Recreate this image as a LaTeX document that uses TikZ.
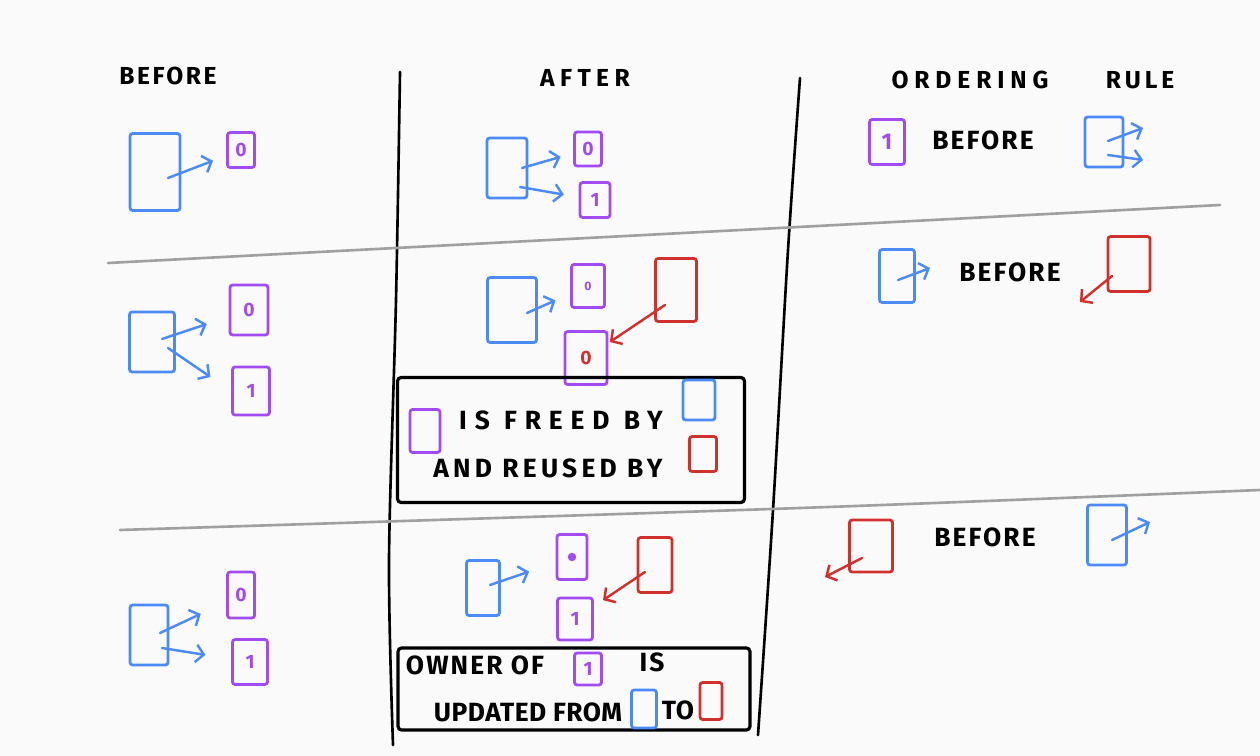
\documentclass[tikz,border=0pt]{standalone}
\usepackage{fontspec}
\usepackage{tikz}
\usetikzlibrary{arrows.meta, positioning, calc}
\setmainfont{Fira Sans}
\newfontfamily\sketchfont{Fira Sans}
\definecolor{paper}{HTML}{FAFAFA}
\definecolor{ownerblue}{HTML}{4C8BF5}
\definecolor{pagepurple}{HTML}{A24BF0}
\definecolor{reuserred}{HTML}{D0312D}
\definecolor{rulegray}{HTML}{A0A0A0}

\tikzset{
  obj/.style={draw, line width=1.6pt, rounded corners=1.5pt, inner sep=0pt},
  ownerbox/.style={obj, draw=ownerblue},
  pagebox/.style={obj, draw=pagepurple, text=pagepurple, font=\sketchfont\bfseries\fontsize{11}{11}\selectfont},
  reuserbox/.style={obj, draw=reuserred},
  ptr/.style={line width=1.4pt, line cap=round, -{Straight Barb[length=4.5pt,width=10pt]}},
  divider/.style={black, line width=1.5pt, line cap=round},
  band/.style={rulegray, line width=1.5pt, line cap=round},
  hand/.style 2 args={font=\sketchfont\bfseries\fontsize{#1}{#1}\selectfont\addfontfeature{LetterSpace=#2}},
  notebox/.style={draw, line width=1.8pt, rounded corners=2pt, inner sep=0pt},
}

\begin{document}
\begin{tikzpicture}[x=0.02cm, y=-0.02cm]
  \fill[paper] (0,0) rectangle (1260,756);
  \useasboundingbox (0,0) rectangle (1260,756);

  % Column and row separators
  \draw[divider] plot[smooth] coordinates {(400,72) (396,300) (389,560) (393,745)};
  \draw[divider] plot[smooth] coordinates {(800,78) (788,250) (773,510) (758,735)};
  \draw[band] (108,263) -- (1220,205);
  \draw[band] plot[smooth] coordinates {(120,530) (800,508) (1260,490)};

  % Column titles
  \node[hand={14}{10}] (hbefore) at (168,76) {BEFORE};
  \node[hand={14}{22}] (hafter) at (585,78) {AFTER};
  \node[hand={14}{24}] (hordering) at (970,80) {ORDERING};
  \node[hand={14}{16}, right=0.9cm of hordering] (hrule) {RULE};

  % Row 1: a page is handed out
  \node[ownerbox, minimum width=1cm, minimum height=1.54cm] (b1) at (155,172) {};
  \node[pagebox, minimum width=0.54cm, minimum height=0.7cm] (b1p0) at (241,150) {0};
  \coordinate (b1s) at (168,178);
  \draw[ptr, ownerblue, shorten >=0.28cm] (b1s) -- (b1p0);

  \node[ownerbox, minimum width=0.8cm, minimum height=1.2cm] (a1) at (507,168) {};
  \node[pagebox, minimum width=0.54cm, minimum height=0.68cm] (a1p0) at (588,149) {0};
  \node[pagebox, minimum width=0.6cm, minimum height=0.7cm] (a1p1) at (595,200) {1};
  \coordinate (a1s0) at (522,168);
  \coordinate (a1s1) at (520,187);
  \draw[ptr, ownerblue, shorten >=0.26cm] (a1s0) -- (a1p0);
  \draw[ptr, ownerblue, shorten >=0.3cm] (a1s1) -- (a1p1);

  \node[pagebox, minimum width=0.7cm, minimum height=0.9cm, font=\sketchfont\bfseries\fontsize{13}{13}\selectfont] (r1p) at (887,142) {1};
  \node[hand={15}{8}] (r1txt) at (983,140) {BEFORE};
  \node[ownerbox, minimum width=0.76cm, minimum height=1cm] (r1b) at (1104,142) {};
  \coordinate (r1s0) at (1108,141); \coordinate (r1e0) at (1143,128);
  \coordinate (r1s1) at (1108,155); \coordinate (r1e1) at (1143,160);
  \draw[ptr, ownerblue] (r1s0) -- (r1e0);
  \draw[ptr, ownerblue] (r1s1) -- (r1e1);

  % Row 2: page freed and reused
  \node[ownerbox, minimum width=0.9cm, minimum height=1.2cm] (b2) at (152,342) {};
  \node[pagebox, minimum width=0.76cm, minimum height=1cm] (b2p0) at (249,310) {0};
  \node[pagebox, minimum width=0.74cm, minimum height=0.96cm] (b2p1) at (251,391) {1};
  \coordinate (b2s0) at (162,339);
  \coordinate (b2s1) at (168,348);
  \draw[ptr, ownerblue, shorten >=0.46cm] (b2s0) -- (b2p0);
  \draw[ptr, ownerblue, shorten >=0.5cm] (b2s1) -- (b2p1.west);

  \node[ownerbox, minimum width=0.98cm, minimum height=1.3cm] (a2) at (512,310) {};
  \node[pagebox, minimum width=0.66cm, minimum height=0.86cm, font=\sketchfont\bfseries\fontsize{7}{7}\selectfont] (a2p0) at (588,286) {0};
  \node[reuserbox, minimum width=0.82cm, minimum height=1.26cm] (a2r) at (676,290) {};
  \node[pagebox, text=reuserred, minimum width=0.84cm, minimum height=1.06cm] (a2p1) at (586,358) {0};
  \coordinate (a2s) at (527,313);
  \coordinate (a2rs) at (665,305);
  \draw[ptr, ownerblue, shorten >=0.32cm] (a2s) -- (a2p0);
  \draw[ptr, reuserred, shorten >=1pt] (a2rs) -- (a2p1);

  \node[notebox, minimum width=6.94cm, minimum height=2.5cm] (note2) at (571,440) {};
  \node[pagebox, minimum width=0.6cm, minimum height=0.86cm] (n2p) at (425,431) {};
  \node[hand={15}{30}] (n2t1) at (561,420) {IS FREED BY};
  \node[ownerbox, minimum width=0.64cm, minimum height=0.8cm] (n2b) at (699,400) {};
  \node[hand={15}{16}] (n2t2) at (548,468) {AND REUSED BY};
  \node[reuserbox, minimum width=0.54cm, minimum height=0.7cm] (n2r) at (703,454) {};

  \node[ownerbox, minimum width=0.7cm, minimum height=1.06cm] (r2b) at (897,276) {};
  \node[hand={15}{8}] (r2txt) at (1010,272) {BEFORE};
  \node[reuserbox, minimum width=0.84cm, minimum height=1.1cm] (r2r) at (1129,264) {};
  \coordinate (r2s0) at (898,280); \coordinate (r2e0) at (930,268);
  \coordinate (r2s1) at (1112,276); \coordinate (r2e1) at (1080,302);
  \draw[ptr, ownerblue] (r2s0) -- (r2e0);
  \draw[ptr, reuserred] (r2s1) -- (r2e1);

  % Row 3: owner of a page changes
  \node[ownerbox, minimum width=0.76cm, minimum height=1.2cm] (b3) at (149,635) {};
  \node[pagebox, minimum width=0.54cm, minimum height=0.92cm] (b3p0) at (241,595) {0};
  \node[pagebox, minimum width=0.7cm, minimum height=0.9cm] (b3p1) at (250,662) {1};
  \coordinate (b3s0) at (160,633);
  \coordinate (b3s1) at (162,648);
  \draw[ptr, ownerblue, shorten >=0.56cm] (b3s0) -- (b3p0);
  \draw[ptr, ownerblue, shorten >=0.52cm] (b3s1) -- (b3p1);

  \node[ownerbox, minimum width=0.66cm, minimum height=1.1cm] (a3) at (483,588) {};
  \node[pagebox, minimum width=0.6cm, minimum height=0.9cm] (a3p0) at (572,557) {};
  \fill[pagepurple] (a3p0.center) circle (2.4pt);
  \node[reuserbox, minimum width=0.68cm, minimum height=1.1cm] (a3r) at (655,565) {};
  \node[pagebox, minimum width=0.7cm, minimum height=0.84cm] (a3p1) at (575,619) {1};
  \coordinate (a3s) at (490,585);
  \coordinate (a3rs) at (645,572);
  \draw[ptr, ownerblue, shorten >=0.56cm] (a3s) -- (a3p0);
  \draw[ptr, reuserred, shorten >=0.22cm] (a3rs) -- (a3p1);

  \node[notebox, minimum width=7.04cm, minimum height=1.64cm] (note3) at (574,689) {};
  \node[hand={15}{8}] (n3t1) at (475,665) {OWNER OF};
  \node[pagebox, minimum width=0.54cm, minimum height=0.64cm] (n3p) at (588,669) {1};
  \node[hand={15}{8}] (n3t2) at (652,662) {IS};
  \node[hand={15}{2}] (n3t3) at (528,712) {UPDATED FROM};
  \node[ownerbox, minimum width=0.5cm, minimum height=0.76cm] (n3b) at (644,709) {};
  \node[hand={15}{2}] (n3t4) at (678,710) {TO};
  \node[reuserbox, minimum width=0.44cm, minimum height=0.74cm] (n3r) at (711,701) {};

  \node[reuserbox, minimum width=0.86cm, minimum height=1.04cm] (r3r) at (871,546) {};
  \node[hand={15}{8}] (r3txt) at (985,537) {BEFORE};
  \node[ownerbox, minimum width=0.78cm, minimum height=1.2cm] (r3b) at (1107,535) {};
  \coordinate (r3s0) at (862,558); \coordinate (r3e0) at (825,577);
  \coordinate (r3s1) at (1112,540); \coordinate (r3e1) at (1150,522);
  \draw[ptr, reuserred] (r3s0) -- (r3e0);
  \draw[ptr, ownerblue] (r3s1) -- (r3e1);
\end{tikzpicture}
\end{document}
